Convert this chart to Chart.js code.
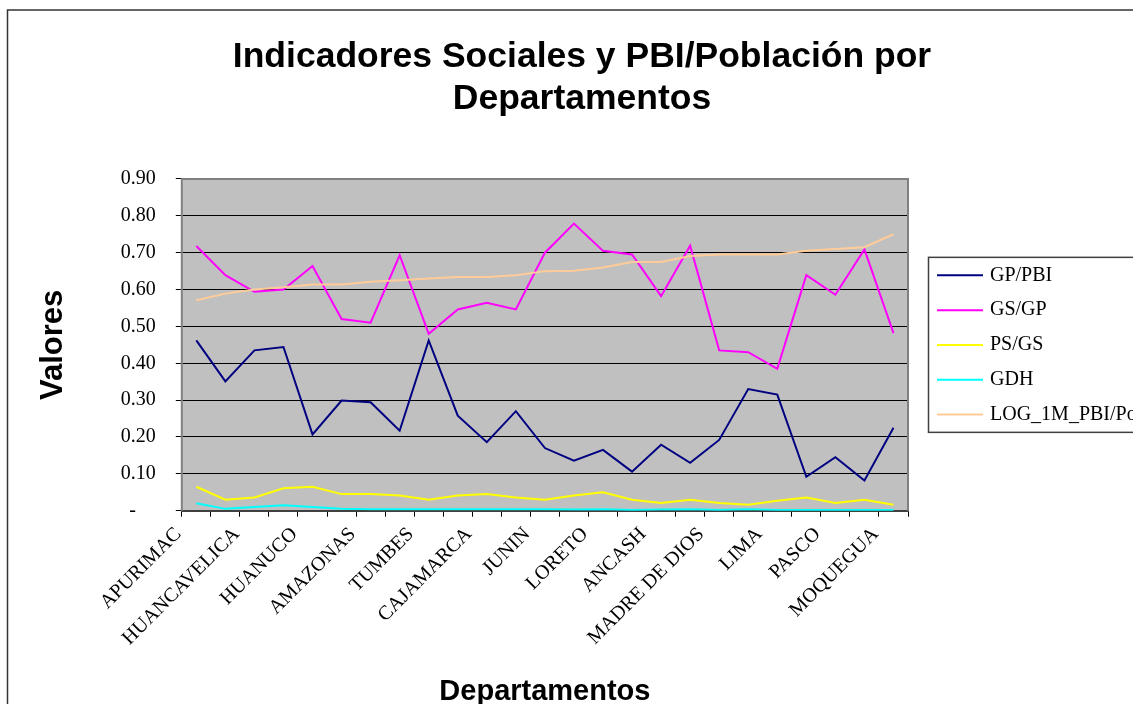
<!DOCTYPE html>
<html>
<head>
<meta charset="utf-8">
<script src="https://cdn.jsdelivr.net/npm/chart.js@4/dist/chart.umd.min.js"></script>
<style>
    html, body { margin: 0; padding: 0; background: #fff; overflow: hidden; }
    #wrap { width: 1133px; height: 704px; overflow: hidden; position: relative; }
    canvas { position: absolute; left: 0; top: 0; }
</style>
</head>
<body>
<div id="wrap"><canvas id="chart" width="1154" height="716"></canvas></div>
<script>
// Departamentos (solo los pares se rotulan en el eje)
const departamentos = [
    'APURIMAC', 'AYACUCHO', 'HUANCAVELICA', 'PUNO', 'HUANUCO', 'SAN MARTIN',
    'AMAZONAS', 'UCAYALI', 'TUMBES', 'PIURA', 'CAJAMARCA', 'LAMBAYEQUE',
    'JUNIN', 'CUSCO', 'LORETO', 'LA LIBERTAD', 'ANCASH', 'ICA',
    'MADRE DE DIOS', 'AREQUIPA', 'LIMA', 'TACNA', 'PASCO', 'CALLAO', 'MOQUEGUA'
];

const gpPbi = [0.462, 0.351, 0.435, 0.444, 0.207, 0.299, 0.294, 0.217, 0.462, 0.258, 0.186, 0.270, 0.170,
               0.136, 0.165, 0.106, 0.179, 0.130, 0.192, 0.330, 0.315, 0.092, 0.145, 0.082, 0.225];
const gsGp = [0.718, 0.639, 0.594, 0.600, 0.664, 0.520, 0.510, 0.693, 0.480, 0.546, 0.564, 0.546, 0.700,
              0.779, 0.705, 0.695, 0.582, 0.719, 0.435, 0.430, 0.385, 0.639, 0.586, 0.709, 0.482];
const psGs = [0.065, 0.030, 0.036, 0.061, 0.065, 0.045, 0.045, 0.041, 0.030, 0.041, 0.045, 0.036, 0.030,
              0.041, 0.050, 0.030, 0.021, 0.030, 0.021, 0.016, 0.027, 0.036, 0.021, 0.030, 0.016];
const gdh = [0.020, 0.005, 0.010, 0.015, 0.010, 0.005, 0.004, 0.004, 0.004, 0.004, 0.004, 0.004, 0.004,
             0.003, 0.004, 0.002, 0.003, 0.004, 0.002, 0.004, 0.002, 0.002, 0.002, 0.002, 0.002];
const logPbiPob = [0.571, 0.589, 0.600, 0.606, 0.614, 0.614, 0.621, 0.625, 0.630, 0.634, 0.634, 0.639, 0.650,
                   0.651, 0.660, 0.675, 0.675, 0.691, 0.695, 0.695, 0.695, 0.705, 0.710, 0.715, 0.750];

const seriesNames = ['GP/PBI', 'GS/GP', 'PS/GS', 'GDH', 'LOG_1M_PBI/Población'];
const seriesColors = ['#000080', '#FF00FF', '#FFFF00', '#00FFFF', '#FFCC99'];
const seriesData = [gpPbi, gsGp, psGs, gdh, logPbiPob];

const LEGEND_W = 246;

// leyenda propia como caja del layout (a la derecha del área del gráfico)
function drawLegend(chart, box) {
    const ctx = chart.ctx;
    const area = chart.chartArea;
    const midY = (area.top + area.bottom) / 2;
    const left = box.left + 20;
    const top = midY - 87.5;
    ctx.save();
    ctx.lineWidth = 1.5;
    ctx.strokeStyle = '#404040';
    ctx.strokeRect(left + 0.5, top, 400, 175);
    ctx.font = '20px "Liberation Serif"';
    ctx.textBaseline = 'middle';
    ctx.textAlign = 'left';
    chart.data.datasets.forEach((ds, i) => {
        const y = top + 18 + i * 34.8;
        ctx.strokeStyle = ds.borderColor;
        ctx.lineWidth = 2;
        ctx.beginPath();
        ctx.moveTo(left + 9, y);
        ctx.lineTo(left + 55, y);
        ctx.stroke();
        ctx.fillStyle = '#000';
        ctx.fillText(ds.label, left + 62, y);
    });
    ctx.restore();
}

const legendBoxPlugin = {
    id: 'legendBox',
    beforeInit(chart) {
        const box = {
            position: 'right', weight: 0, fullSize: false, options: {},
            left: 0, top: 0, right: 0, bottom: 0, width: 0, height: 0,
            isHorizontal() { return false; },
            update(maxWidth, maxHeight) { this.width = LEGEND_W; this.height = maxHeight; },
            draw() { drawLegend(chart, this); }
        };
        Chart.layouts.addBox(chart, box);
    }
};

const framePlugin = {
    id: 'frame',
    beforeDraw(chart) {
        const ctx = chart.ctx;
        const a = chart.chartArea;
        ctx.save();
        ctx.fillStyle = '#fff';
        ctx.fillRect(0, 0, chart.width, chart.height);
        ctx.lineWidth = 1.5;
        ctx.strokeStyle = '#333';
        ctx.strokeRect(7.5, 10, chart.width + 20, chart.height + 20);
        ctx.fillStyle = '#C0C0C0';
        ctx.fillRect(a.left, a.top, a.right - a.left, a.bottom - a.top);
        ctx.restore();
    },
    beforeDatasetsDraw(chart) {
        const ctx = chart.ctx;
        const a = chart.chartArea;
        ctx.save();
        ctx.lineWidth = 2;
        ctx.strokeStyle = '#808080';
        ctx.beginPath();
        ctx.moveTo(a.left, a.bottom);
        ctx.lineTo(a.left, a.top);
        ctx.lineTo(a.right, a.top);
        ctx.lineTo(a.right, a.bottom);
        ctx.stroke();
        ctx.restore();
    }
};

Chart.defaults.font.family = '"Liberation Serif", "Times New Roman", serif';
Chart.defaults.color = '#000';

new Chart(document.getElementById('chart').getContext('2d'), {
    type: 'line',
    data: {
        labels: departamentos,
        datasets: seriesNames.map((name, i) => ({
            label: name,
            data: seriesData[i],
            borderColor: seriesColors[i],
            backgroundColor: seriesColors[i],
            borderWidth: 2,
            pointRadius: 0,
            tension: 0,
            fill: false,
            order: seriesNames.length - i
        }))
    },
    options: {
        responsive: false,
        animation: false,
        layout: { padding: { left: 10, top: 0, right: 0, bottom: 0 } },
        plugins: {
            legend: { display: false },
            tooltip: { enabled: false },
            title: {
                display: true,
                text: ['Indicadores Sociales y PBI/Población por', 'Departamentos'],
                color: '#000',
                font: { family: '"Liberation Sans", Arial, sans-serif', size: 35.5, weight: 'bold', lineHeight: 1.18 },
                padding: { top: 36, bottom: 59.2 }
            }
        },
        scales: {
            x: {
                offset: true,
                grid: { offset: true, drawOnChartArea: false, drawTicks: true, tickLength: 6, tickColor: '#000' },
                border: { display: true, color: '#404040', width: 2 },
                ticks: {
                    autoSkip: false,
                    minRotation: 45,
                    maxRotation: 45,
                    padding: 6,
                    labelOffset: -18,
                    font: { size: 20 },
                    callback: function (val, idx) { return idx % 2 === 0 ? this.getLabelForValue(val) : ''; }
                },
                title: {
                    display: true,
                    text: 'Departamentos',
                    color: '#000',
                    font: { family: '"Liberation Sans", Arial, sans-serif', size: 29, weight: 'bold', lineHeight: 1.2 },
                    padding: { top: 18, bottom: 7 }
                }
            },
            y: {
                min: 0,
                max: 0.9,
                grid: { color: '#000', lineWidth: 1, tickLength: 6, tickColor: '#000' },
                border: { display: false },
                ticks: {
                    stepSize: 0.1,
                    padding: 20,
                    font: { size: 20 },
                    callback: (v) => Math.abs(v) < 1e-9 ? '-\u2007\u2007' : v.toFixed(2)
                },
                title: {
                    display: true,
                    text: 'Valores',
                    color: '#000',
                    font: { family: '"Liberation Sans", Arial, sans-serif', size: 31, weight: 'bold', lineHeight: 1.2 },
                    padding: { top: 24.4, bottom: 29.2 }
                }
            }
        }
    },
    plugins: [legendBoxPlugin, framePlugin]
});
</script>
</body>
</html>
